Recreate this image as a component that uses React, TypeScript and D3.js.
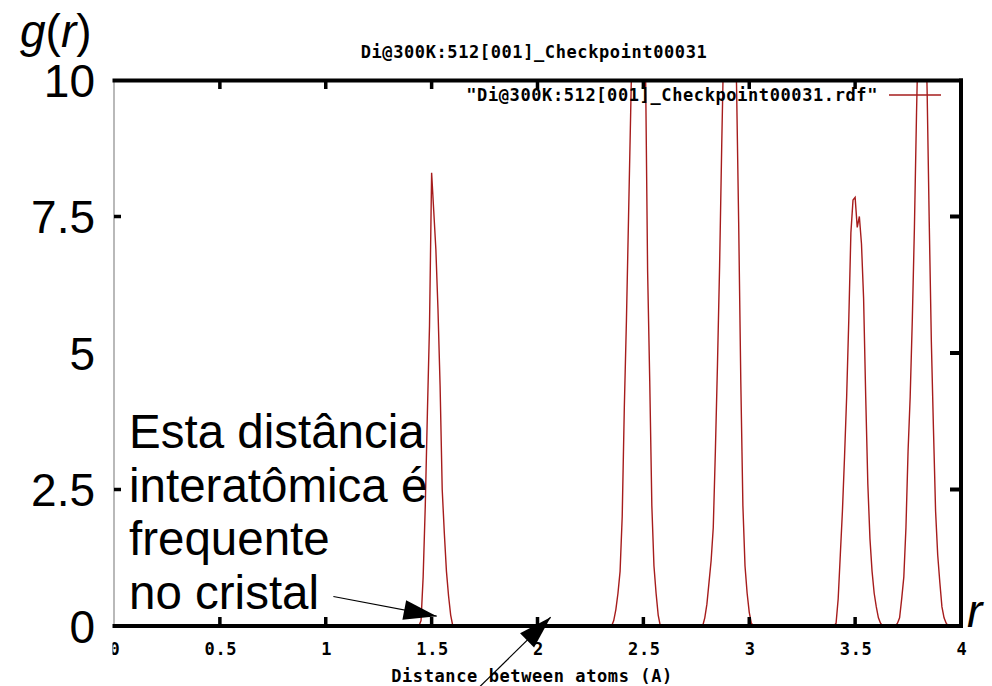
import * as d3 from 'd3';

// gnuplot radial distribution function, r in Angstrom
const title = 'Di@300K:512[001]_Checkpoint00031';
const legendLabel = '"Di@300K:512[001]_Checkpoint00031.rdf"';
const xLabel = 'Distance between atoms (A)';

const xTicks = [0, 0.5, 1, 1.5, 2, 2.5, 3, 3.5, 4];
const xTickLabels = ['0', '0.5', '1', '1.5', '2', '2.5', '3', '3.5', '4'];
const yTicks = [0, 2.5, 5, 7.5, 10];
const yTickLabels = ['0', '2.5', '5', '7.5', '10'];
const rightTicks = [2.5, 5, 7.5];
const leftTicks = [2.5, 7.5];

const rValues = [
  0,
  1.44, 1.45, 1.46, 1.47, 1.48, 1.49, 1.5, 1.51, 1.52, 1.53, 1.54, 1.55, 1.56, 1.57, 1.58, 1.59, 1.6,
  2.35, 2.36, 2.37, 2.38, 2.39, 2.4, 2.41, 2.42, 2.43, 2.44, 2.45, 2.46, 2.47, 2.48, 2.49, 2.5, 2.51, 2.52, 2.53, 2.54, 2.55, 2.56, 2.57, 2.58,
  2.78, 2.79, 2.8, 2.81, 2.82, 2.83, 2.84, 2.85, 2.86, 2.87, 2.88, 2.89, 2.9, 2.91, 2.92, 2.93, 2.94, 2.95, 2.96, 2.97, 2.98, 2.99, 3.0, 3.01, 3.02,
  3.4, 3.41, 3.42, 3.43, 3.44, 3.45, 3.46, 3.47, 3.48, 3.49, 3.5, 3.51, 3.52, 3.53, 3.54, 3.55, 3.56, 3.57, 3.58, 3.59, 3.6, 3.61, 3.62, 3.63,
  3.69, 3.7, 3.71, 3.72, 3.73, 3.74, 3.75, 3.76, 3.77, 3.78, 3.79, 3.8, 3.81, 3.82, 3.83, 3.84, 3.85, 3.86, 3.87, 3.88, 3.89, 3.9, 3.91, 3.92, 3.93, 3.94,
  4.0,
];
const gValues = [
  0,
  0, 0.1, 0.9, 2.2, 3.9, 5.5, 8.3, 7.6, 6.9, 5.8, 4.4, 2.5, 1.7, 1.0, 0.55, 0.2, 0,
  0, 0.1, 0.3, 0.6, 1.0, 2.0, 4.0, 5.6, 7.5, 9.4, 11.4, 13.0, 14.0, 14.2, 13.6, 12.2, 10.3, 6.5, 4.5, 2.2, 1.1, 0.6, 0.2, 0,
  0, 0.15, 0.4, 0.8, 1.2, 1.8, 3.2, 4.8, 6.6, 8.8, 10.8, 12.4, 13.3, 13.5, 12.9, 11.6, 9.9, 7.4, 4.5, 2.2, 1.1, 0.6, 0.25, 0.05, 0,
  0, 0.05, 0.5, 1.3, 2.1, 3.1, 4.2, 5.6, 7.2, 7.8, 7.85, 7.3, 7.5, 7.0, 6.0, 4.2, 2.6, 1.6, 1.0, 0.6, 0.35, 0.15, 0.05, 0,
  0, 0.05, 0.15, 0.5, 0.9, 1.8, 3.2, 4.2, 5.6, 7.3, 9.4, 11.2, 12.2, 12.4, 11.6, 9.8, 7.4, 5.2, 3.6, 2.1, 1.3, 0.8, 0.35, 0.15, 0.05, 0,
  0,
];

const noteLines = ['Esta distância', 'interatômica é', 'frequente', 'no cristal'];
// annotation arrows in data units (r, g)
const arrowFrom = [[1.036, 0.54], [1.712, -1.17]];
const arrowTo = [[1.524, 0.18], [2.062, 0.16]];

const monoFont = {
  fontFamily: '"DejaVu Sans Mono", monospace',
  fontWeight: 'bold' as const,
  fontSize: 17,
  letterSpacing: '0.6px',
};
const sans = '"Liberation Sans", Arial, sans-serif';
const lineColor = '#a61c1c';

export default function App() {
  const width = 992;
  const height = 686;

  const x = d3.scaleLinear().domain([0, 4]).range([114, 961]);
  const y = d3.scaleLinear().domain([0, 10]).range([626, 80]);

  const pts = rValues.map((r, i) => [r, gValues[i]] as [number, number]);
  const line = d3
    .line<[number, number]>()
    .x((d) => x(d[0]))
    .y((d) => y(d[1]));

  const arrowHead = (from: number[], to: number[]) => {
    const x0 = x(from[0]), y0 = y(from[1]);
    const x1 = x(to[0]), y1 = y(to[1]);
    const len = Math.hypot(x1 - x0, y1 - y0);
    const ux = (x1 - x0) / len, uy = (y1 - y0) / len;
    const L = 33, Wd = 10;
    const bx = x1 - ux * L, by = y1 - uy * L;
    return `${x1},${y1} ${bx - uy * Wd},${by + ux * Wd} ${bx + uy * Wd},${by - ux * Wd}`;
  };

  return (
    <svg
      width={width}
      height={height}
      style={{ position: 'absolute', left: 0, top: 0, display: 'block', background: '#fff' }}
    >
      <defs>
        <clipPath id="plot">
          <rect x={114} y={80} width={847} height={546} />
        </clipPath>
      </defs>
      <rect x={0} y={0} width={width} height={height} fill="#fff" />

      {/* left border is a thin grey line */}
      <line x1={114} x2={114} y1={80} y2={626} stroke="#8a8a8a" strokeWidth={1.2} />

      <path d={line(pts) ?? ''} fill="none" stroke={lineColor} strokeWidth={1.4} clipPath="url(#plot)" />

      {/* thick frame */}
      <line x1={112} x2={963} y1={80.5} y2={80.5} stroke="#000" strokeWidth={4} />
      <line x1={112} x2={963} y1={626} y2={626} stroke="#000" strokeWidth={4} />
      <line x1={961} x2={961} y1={78.5} y2={628} stroke="#000" strokeWidth={4} />

      {xTicks.slice(1, -1).map((t) => (
        <g key={'xt' + t}>
          <line x1={x(t)} x2={x(t)} y1={626} y2={617} stroke="#000" strokeWidth={3.5} />
          <line x1={x(t)} x2={x(t)} y1={80} y2={89} stroke="#000" strokeWidth={3.5} />
        </g>
      ))}
      {rightTicks.map((t) => (
        <line key={'rt' + t} x1={961} x2={950} y1={y(t)} y2={y(t)} stroke="#000" strokeWidth={4} />
      ))}
      {leftTicks.map((t) => (
        <line key={'lt' + t} x1={114} x2={121} y1={y(t)} y2={y(t)} stroke="#000" strokeWidth={3.5} />
      ))}

      {/* gnuplot texts */}
      <text x={534} y={58} textAnchor="middle" {...monoFont}>{title}</text>
      <text x={878} y={101} textAnchor="end" {...monoFont}>{legendLabel}</text>
      <line x1={889} x2={941} y1={95} y2={95} stroke={lineColor} strokeWidth={1.4} />
      {xTicks.map((t, i) => (
        <text key={'xl' + t} x={x(t) + 1} y={655} textAnchor="middle" {...monoFont}>
          {xTickLabels[i]}
        </text>
      ))}
      <text x={532} y={682} textAnchor="middle" {...monoFont}>{xLabel}</text>

      {/* overlay with large labels */}
      <rect x={0} y={0} width={112.5} height={height} fill="#fff" />
      {yTicks.map((t, i) => (
        <text
          key={'yl' + t}
          x={95}
          y={y(t)}
          dy="0.36em"
          textAnchor="end"
          fontFamily={sans}
          fontSize={46}
        >
          {yTickLabels[i]}
        </text>
      ))}
      <text x={20} y={47} fontFamily={sans} fontSize={46}>
        <tspan fontStyle="italic">g</tspan>(<tspan fontStyle="italic">r</tspan>)
      </text>
      <text x={967} y={627} fontFamily={sans} fontSize={46} fontStyle="italic">r</text>

      {noteLines.map((s, i) => (
        <text key={s} x={129} y={448 + i * 53.5} fontFamily={sans} fontSize={47.5}>
          {s}
        </text>
      ))}

      {arrowFrom.map((f, i) => {
        const t = arrowTo[i];
        return (
          <g key={'ar' + i}>
            <line x1={x(f[0])} y1={y(f[1])} x2={x(t[0])} y2={y(t[1])} stroke="#000" strokeWidth={1.2} />
            <polygon points={arrowHead(f, t)} fill="#000" />
          </g>
        );
      })}
    </svg>
  );
}
